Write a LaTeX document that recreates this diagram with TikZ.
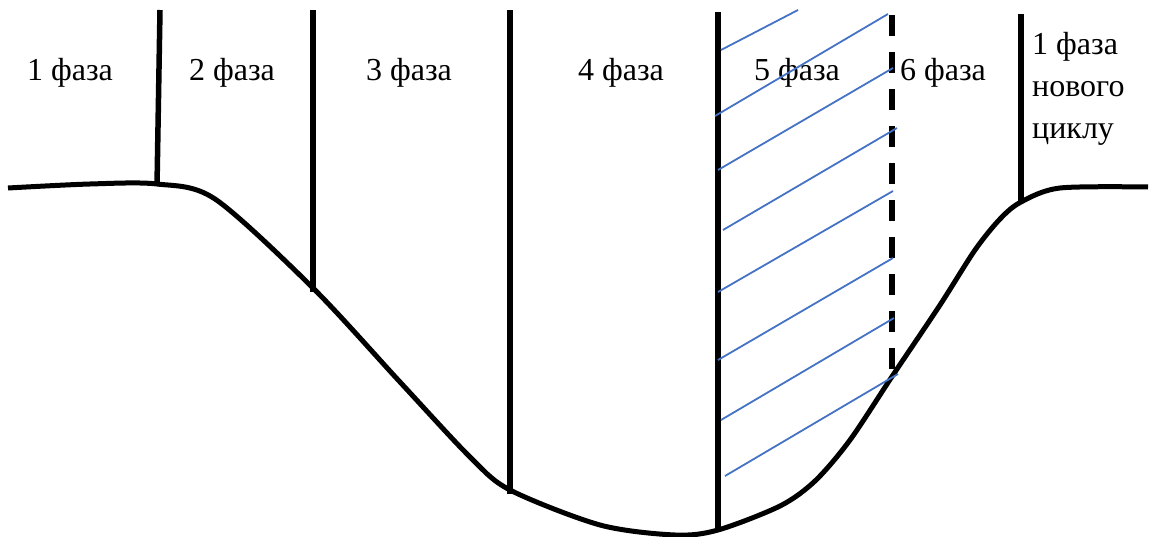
\documentclass[tikz,border=0pt]{standalone}
\usepackage{fontspec}
\setmainfont{Liberation Serif}
\begin{document}
\begin{tikzpicture}[x=1pt,y=-1pt,
  phaseline/.style={line width=5.5pt},
  dashline/.style={line width=5.5pt, dash pattern=on 21pt off 16pt},
  curveline/.style={line width=5pt, line join=round},
  hatch/.style={line width=1.8pt, draw=hatchblue},
  lbl/.style={font=\fontsize{32}{42}\selectfont, inner sep=0pt, anchor=base}
]
\definecolor{hatchblue}{RGB}{68,114,196}
\useasboundingbox (0,0) rectangle (1149,537);

% curve
\draw[curveline] plot[smooth, tension=0.5] coordinates {
  (8,188) (90,184) (157,184) (215,199) (313,288) (400,382) (470,457)
  (510,490) (600,525) (675,535) (718,530) (780,506) (815,481) (850,440) (893,375)
  (940,305) (975,250) (1000,219) (1021,202) (1060,188) (1148,187)};

% phase boundary coordinates
\coordinate (t1) at (160,10);  \coordinate (b1) at (157,186);
\coordinate (t2) at (313,10);  \coordinate (b2) at (313,292);
\coordinate (t3) at (510,10);  \coordinate (b3) at (510,494);
\coordinate (t4) at (718,12);  \coordinate (b4) at (718,531);
\coordinate (t5) at (892,15);  \coordinate (b5) at (892,375);
\coordinate (t6) at (1021,14); \coordinate (b6) at (1021,203);

\draw[phaseline] (t1) -- (b1);
\draw[phaseline] (t2) -- (b2);
\draw[phaseline] (t3) -- (b3);
\draw[phaseline] (t4) -- (b4);
\draw[dashline] (t5) -- (b5);
\draw[phaseline] (t6) -- (b6);

% labels
\node[lbl] (p1) at (70,81) {1 фаза};
\node[lbl] (p2) at (232,81) {2 фаза};
\node[lbl] (p3) at (409,81) {3 фаза};
\node[lbl] (p4) at (621,81) {4 фаза};
\node[lbl] (p5) at (797,81) {5 фаза};
\node[lbl] (p6) at (943,81) {6 фаза};
\node[lbl, anchor=base west, align=left] (p7) at (1032,139) {1 фаза\\нового\\циклу};

% hatching
\coordinate (h1a) at (721,50);  \coordinate (h1b) at (798,10);
\coordinate (h2a) at (715,116); \coordinate (h2b) at (888,14);
\coordinate (h3a) at (718,170); \coordinate (h3b) at (893,68);
\coordinate (h4a) at (723,230); \coordinate (h4b) at (897,128);
\coordinate (h5a) at (718,292); \coordinate (h5b) at (893,191);
\coordinate (h6a) at (718,360); \coordinate (h6b) at (893,258);
\coordinate (h7a) at (721,420); \coordinate (h7b) at (894,318);
\coordinate (h8a) at (725,476); \coordinate (h8b) at (898,374);
\foreach \i in {1,...,8} {\draw[hatch] (h\i a) -- (h\i b);}
\end{tikzpicture}
\end{document}
